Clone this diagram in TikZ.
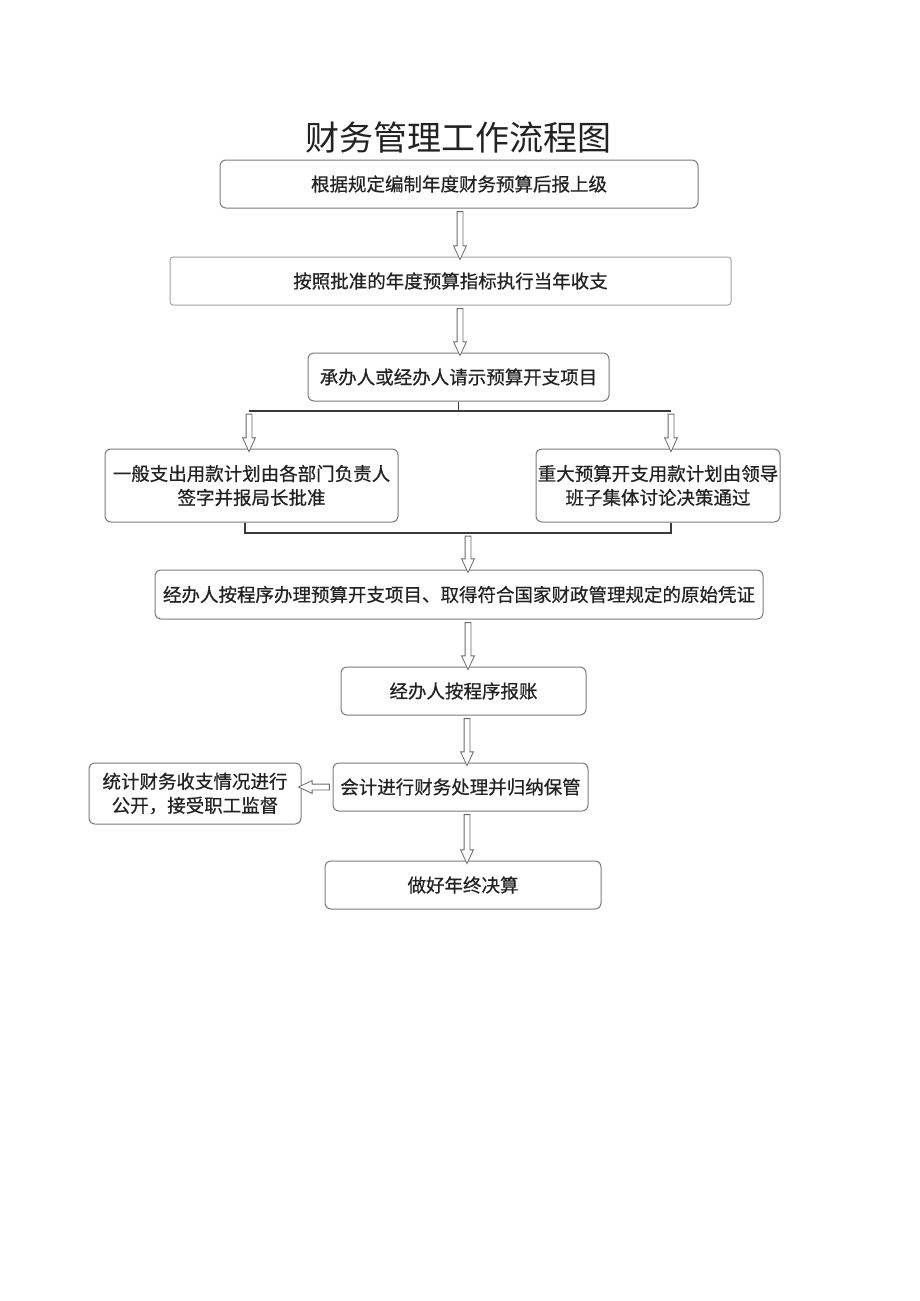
\documentclass[tikz,border=0pt]{standalone}
\usepackage{fontspec}
\setmainfont{Noto Sans CJK SC}
\newfontfamily\boxfont{Noto Sans CJK SC}[FakeBold=0.6]
\usetikzlibrary{shapes.arrows,calc}
\definecolor{boxgray}{HTML}{7A7A7A}
\definecolor{textgray}{HTML}{222222}
\definecolor{linegray}{HTML}{3A3A3A}
\definecolor{arrowgray}{HTML}{6A6A6A}
\tikzset{
 box/.style={draw=boxgray, rounded corners=6pt, line width=1pt, minimum height=48pt, inner sep=0pt, text=textgray, font=\boxfont\fontsize{18.5}{24}\selectfont, align=center},
 link/.style={draw=linegray, line width=1.2pt},
 barrow/.style={single arrow, draw=arrowgray, fill=white, line width=0.8pt, inner sep=0pt, single arrow head extend=3.5pt, single arrow tip angle=50, single arrow head indent=0pt},
}
\newcommand\blockarrow[2]{\path let \p1=(#1), \p2=(#2), \n1={veclen(\x2-\x1,\y2-\y1)}, \n2={atan2(\y2-\y1,\x2-\x1)} in node[barrow, minimum height=\n1, rotate=\n2] at ($(#1)!0.5!(#2)$) {\rule{0pt}{5pt}};}
\begin{document}
\begin{tikzpicture}[x=1pt,y=-1pt]
\useasboundingbox (0,0) rectangle (920,1301);
\node[text=textgray, inner sep=0pt] (title) at (458,138) {\fontsize{34}{34}\selectfont 财务管理工作流程图};
\node[box, minimum width=478pt] (b1) at (459,184) {根据规定编制年度财务预算后报上级};
\node[box, minimum width=561pt, rounded corners=3pt, draw=boxgray!70] (b2) at (450.5,281) {按照批准的年度预算指标执行当年收支};
\node[box, minimum width=301pt] (b3) at (458.5,377) {承办人或经办人请示预算开支项目};
\node[box, minimum width=293pt, minimum height=73pt] (b4) at (251.5,485.5) {一般支出用款计划由各部门负责人\\签字并报局长批准};
\node[box, minimum width=244pt, minimum height=73pt] (b5) at (658,485.5) {重大预算开支用款计划由领导\\班子集体讨论决策通过};
\node[box, minimum width=608pt, minimum height=49pt] (b6) at (459,594.5) {经办人按程序办理预算开支项目、取得符合国家财政管理规定的原始凭证};
\node[box, minimum width=245pt] (b7) at (463.5,691) {经办人按程序报账};
\node[box, minimum width=255pt] (b8) at (460.5,787) {会计进行财务处理并归纳保管};
\node[box, minimum width=212pt, minimum height=61pt] (b9) at (195,793.5) {统计财务收支情况进行\\公开，接受职工监督};
\node[box, minimum width=276pt] (b10) at (463,885) {做好年终决算};
% connector coordinates
\coordinate (a1) at (460,0);
\coordinate (sL) at (249,411);
\coordinate (sR) at (671,411);
\coordinate (mL) at (245,533);
\coordinate (mR) at (671,533);
\coordinate (mC) at (468,533);
\coordinate (a6) at (468,0);
\coordinate (a7) at (467,0);
% arrows
\blockarrow{a1 |- b1.south}{a1 |- b2.north}
\blockarrow{a1 |- b2.south}{a1 |- b3.north}
\draw[link] (b3.south) -- (b3.south |- sL);
\draw[link] (sL) -- (sR);
\blockarrow{sL}{sL |- b4.north}
\blockarrow{sR}{sR |- b5.north}
\draw[link] (mL |- b4.south) -- (mL) -- (mR) -- (mR |- b5.south);
\blockarrow{mC}{mC |- b6.north}
\blockarrow{a6 |- b6.south}{a6 |- b7.north}
\blockarrow{a7 |- b7.south}{a7 |- b8.north}
\blockarrow{b8.west}{b8.west -| b9.east}
\blockarrow{a7 |- b8.south}{a7 |- b10.north}
\end{tikzpicture}
\end{document}
